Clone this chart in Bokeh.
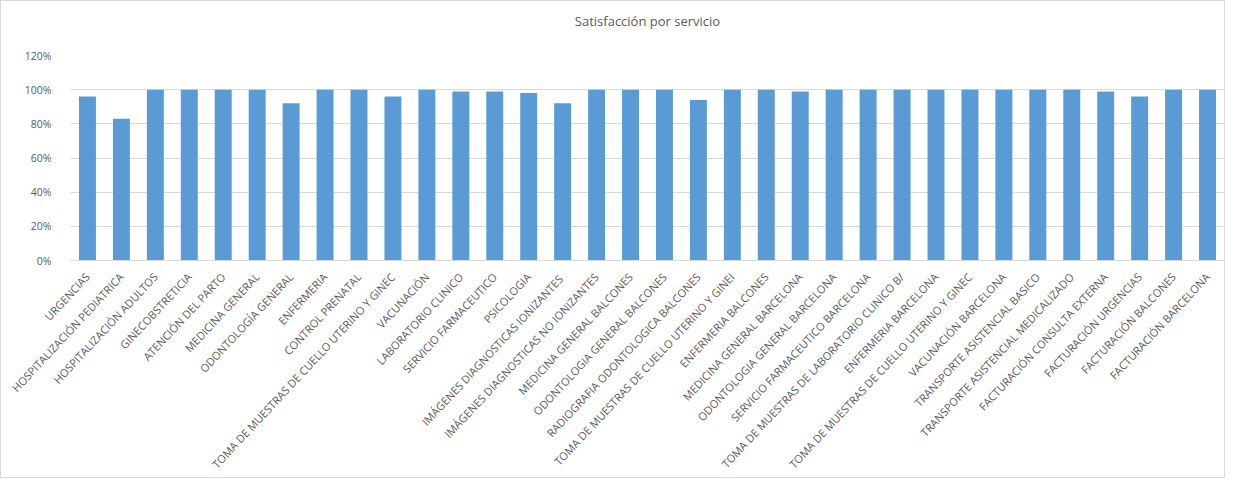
import math
from bokeh.plotting import figure
from bokeh.models import ColumnDataSource, FixedTicker, NumeralTickFormatter, Range1d, Title
from bokeh.embed import file_html
from bokeh.resources import INLINE

services = [
    "URGENCIAS",
    "HOSPITALIZACIÓN PEDIATRICA",
    "HOSPITALIZACIÓN ADULTOS",
    "GINECOBSTRETICIA",
    "ATENCIÓN DEL PARTO",
    "MEDICINA GENERAL",
    "ODONTOLOGÍA GENERAL",
    "ENFERMERIA",
    "CONTROL PRENATAL",
    "TOMA DE MUESTRAS DE CUELLO UTERINO Y GINEC",
    "VACUNACIÓN",
    "LABORATORIO CLINICO",
    "SERVICIO FARMACEUTICO",
    "PSICOLOGIA",
    "IMÁGENES DIAGNOSTICAS  IONIZANTES",
    "IMÁGENES DIAGNOSTICAS NO IONIZANTES",
    "MEDICINA GENERAL BALCONES",
    "ODONTOLOGIA GENERAL BALCONES",
    "RADIOGRAFIA ODONTOLOGICA BALCONES",
    "TOMA DE MUESTRAS DE CUELLO UTERINO Y GINEI",
    "ENFERMERIA BALCONES",
    "MEDICINA GENERAL BARCELONA",
    "ODONTOLOGIA GENERAL BARCELONA",
    "SERVICIO FARMACEUTICO BARCELONA",
    "TOMA DE MUESTRAS DE LABORATORIO CLINICO B/",
    "ENFERMERIA BARCELONA",
    "TOMA DE MUESTRAS DE CUELLO UTERINO Y GINEC",
    "VACUNACIÓN BARCELONA",
    "TRANSPORTE ASISTENCIAL BASICO",
    "TRANSPORTE ASISTENCIAL MEDICALIZADO",
    "FACTURACIÓN CONSULTA EXTERNA",
    "FACTURACIÓN URGENCIAS",
    "FACTURACIÓN BALCONES",
    "FACTURACIÓN BARCELONA",
]
satisfaction = [
    0.96, 0.83, 1.00, 1.00, 1.00, 1.00, 0.92, 1.00, 1.00, 0.96,
    1.00, 0.99, 0.99, 0.98, 0.92, 1.00, 1.00, 1.00, 0.94, 1.00,
    1.00, 0.99, 1.00, 1.00, 1.00, 1.00, 1.00, 1.00, 1.00, 1.00,
    0.99, 0.96, 1.00, 1.00,
]
y_ticks = [0, 0.2, 0.4, 0.6, 0.8, 1.0, 1.2]
chart_title = "Satisfacción por servicio"

positions = list(range(1, len(services) + 1))
source = ColumnDataSource(dict(x=positions, y=satisfaction, name=services))

FONT = "Open Sans"
GRAY = "#595959"

p = figure(
    width=1225, height=478,
    x_range=Range1d(0.5, len(services) + 0.5),
    y_range=Range1d(0, 1.2),
    output_backend="svg", toolbar_location=None,
    min_border_left=69, min_border_right=2, min_border_top=54, min_border_bottom=217,
)
p.styles = {"border": "1px solid #d9d9d9"}

p.vbar(x="x", top="y", width=0.5, source=source, color="#5B9BD5", line_color=None)

# blank spacer between frame and title, then the title itself
p.add_layout(Title(text=" ", text_font_size="20px", standoff=0), "above")
p.add_layout(Title(
    text=chart_title, align="center", offset=-21, standoff=4,
    text_font=FONT, text_font_size="13px", text_font_style="normal", text_color=GRAY,
), "above")

p.outline_line_color = None
p.xgrid.grid_line_color = None
p.ygrid.grid_line_color = "#D9D9D9"
p.ygrid.grid_line_width = 1

p.yaxis.ticker = FixedTicker(ticks=y_ticks)
p.yaxis.formatter = NumeralTickFormatter(format="0%")
p.yaxis.axis_line_color = None
p.yaxis.major_tick_line_color = None
p.yaxis.minor_tick_line_color = None
p.yaxis.major_label_text_font = FONT
p.yaxis.major_label_text_font_size = "10.5px"
p.yaxis.major_label_text_color = GRAY
p.yaxis.major_label_standoff = 13

p.xaxis.ticker = FixedTicker(ticks=positions)
p.xaxis.major_label_overrides = {i: s for i, s in zip(positions, services)}
p.xaxis.major_label_orientation = 0.82
p.xaxis.axis_line_color = "#D9D9D9"
p.xaxis.major_tick_line_color = None
p.xaxis.minor_tick_line_color = None
p.xaxis.major_label_text_font = FONT
p.xaxis.major_label_text_font_size = "11px"
p.xaxis.major_label_text_color = GRAY
p.xaxis.major_label_standoff = 8

open("out.html", "w").write(file_html(p, INLINE))
